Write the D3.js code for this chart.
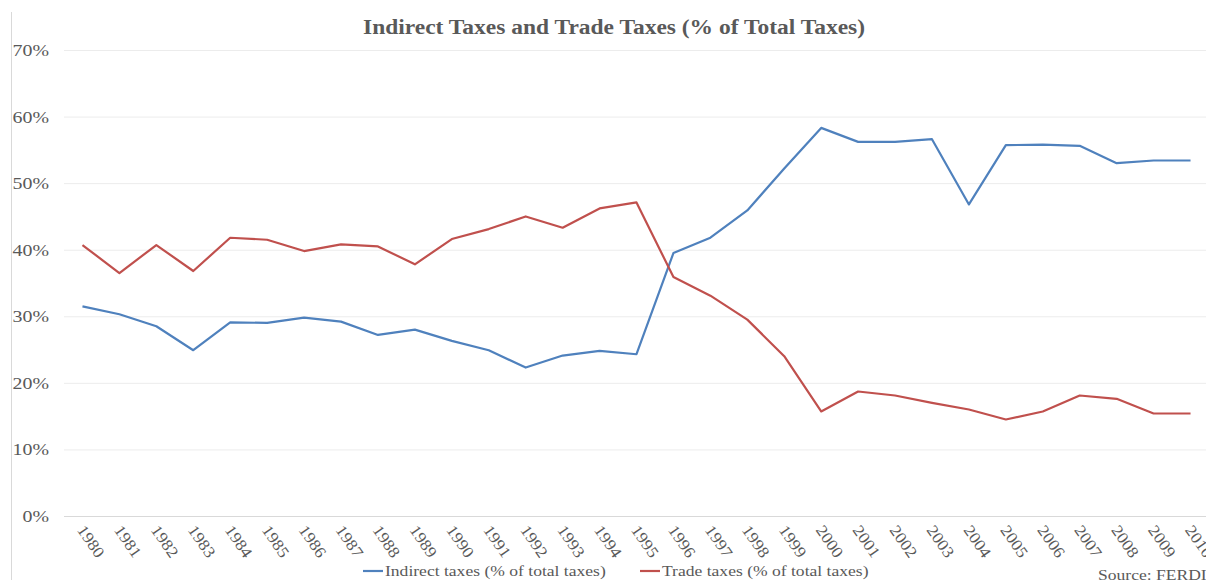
<!DOCTYPE html>
<html lang="en">

<head>
    <meta charset="UTF-8">
    <title>indirect and trade taxes</title>
    <style>
        body {
            margin: 0;
            background: #fff;
        }

        text {
            font-family: "Liberation Serif", "DejaVu Serif", serif;
            fill: #595959;
        }

        .title {
            font-size: 20px;
            font-weight: bold;
        }

        .y-axis .tick text {
            font-size: 17px;
        }

        .x-axis .tick text {
            font-size: 16px;
        }

        .legend text,
        .source {
            font-size: 15px;
        }
    </style>
</head>

<body>
    <svg width="1206" height="580"></svg>
    <script src="https://d3js.org/d3.v7.min.js"></script>
    <script>
        let years = d3.range(1980, 2011).map(String);

        // % of total taxes
        let indirect = [31.5, 30.3, 28.5, 24.9, 29.1, 29.0, 29.8, 29.2, 27.2, 28.0,
            26.3, 24.9, 22.3, 24.1, 24.8, 24.3, 39.5, 41.8, 45.9, 52.2,
            58.3, 56.2, 56.2, 56.6, 46.8, 55.7, 55.8, 55.6, 53.0, 53.4, 53.4];

        let trade = [40.7, 36.5, 40.7, 36.8, 41.8, 41.5, 39.8, 40.8, 40.5, 37.8,
            41.6, 43.1, 45.0, 43.3, 46.2, 47.1, 35.9, 33.1, 29.5, 24.0,
            15.7, 18.7, 18.1, 17.0, 16.0, 14.5, 15.7, 18.1, 17.6, 15.4, 15.4];

        let yTicks = [0, 10, 20, 30, 40, 50, 60, 70];

        let series = [
            { name: "Indirect taxes (% of total taxes)", values: indirect, color: "#4f81bd" },
            { name: "Trade taxes (% of total taxes)", values: trade, color: "#c0504d" }
        ];

        let svg = d3.select("svg"),
            width = +svg.attr("width"),
            height = +svg.attr("height");

        let margin = { top: 50, right: -3, bottom: 64, left: 64 };

        // the source picture is a bit wider than it is tall, so widen the text
        let stretch = function (sel, k) {
            sel.each(function () {
                let w = this.getComputedTextLength();
                d3.select(this)
                    .attr("textLength", w * k)
                    .attr("lengthAdjust", "spacingAndGlyphs");
            });
        };

        let x = d3.scaleBand()
            .domain(years)
            .range([margin.left, width - margin.right]);

        let y = d3.scaleLinear()
            .domain([0, 70])
            .range([height - margin.bottom, margin.top]);

        // outer border, only the left edge shows
        svg.append("line")
            .attr("x1", 11.5).attr("x2", 11.5)
            .attr("y1", 12).attr("y2", height)
            .attr("stroke", "#d9d9d9");

        svg.append("text")
            .attr("class", "title")
            .attr("x", 614)
            .attr("y", 34)
            .attr("text-anchor", "middle")
            .attr("textLength", 502)
            .attr("lengthAdjust", "spacingAndGlyphs")
            .text("Indirect Taxes and Trade Taxes (% of Total Taxes)");

        // y axis with gridlines
        let yAxis = svg.append("g")
            .attr("class", "y-axis")
            .attr("transform", `translate(${margin.left},0)`)
            .call(d3.axisLeft(y)
                .tickValues(yTicks)
                .tickSize(-(width - margin.left))
                .tickPadding(15)
                .tickFormat(d => d + "%"));

        yAxis.select(".domain").remove();
        yAxis.selectAll(".tick line")
            .attr("stroke", (d) => d === 0 ? "#d9d9d9" : "#ececec");
        stretch(yAxis.selectAll(".tick text"), 1.17);

        // x axis labels, rotated
        let xAxis = svg.append("g")
            .attr("class", "x-axis")
            .attr("transform", `translate(0,${height - margin.bottom})`)
            .call(d3.axisBottom(x).tickSize(0).tickPadding(0));

        xAxis.select(".domain").remove();
        xAxis.selectAll(".tick text")
            .attr("text-anchor", "start")
            .attr("dy", 0)
            .attr("y", 0)
            .attr("transform", "translate(-6,14) rotate(55)");
        stretch(xAxis.selectAll(".tick text"), 1.1);

        let line = d3.line()
            .x((d, i) => x(years[i]) + x.bandwidth() / 2)
            .y(d => y(d));

        svg.selectAll(".series")
            .data(series)
            .enter().append("path")
            .attr("class", "series")
            .attr("fill", "none")
            .attr("stroke", d => d.color)
            .attr("stroke-width", 2.2)
            .attr("stroke-linejoin", "round")
            .attr("d", d => line(d.values));

        // legend
        let legendX = [363, 640];
        let legend = svg.append("g")
            .attr("class", "legend")
            .selectAll("g")
            .data(series)
            .enter().append("g")
            .attr("transform", (d, i) => `translate(${legendX[i]},571)`);

        legend.append("line")
            .attr("x1", 0).attr("x2", 20)
            .attr("stroke", d => d.color)
            .attr("stroke-width", 2.2);

        legend.append("text")
            .attr("x", 22)
            .attr("dy", "0.35em")
            .text(d => d.name);
        stretch(legend.selectAll("text"), 1.17);

        let source = svg.append("text")
            .attr("class", "source")
            .attr("x", 1098)
            .attr("y", 580)
            .text("Source: FERDI");
        stretch(source, 1.17);
    </script>

</body>

</html>
